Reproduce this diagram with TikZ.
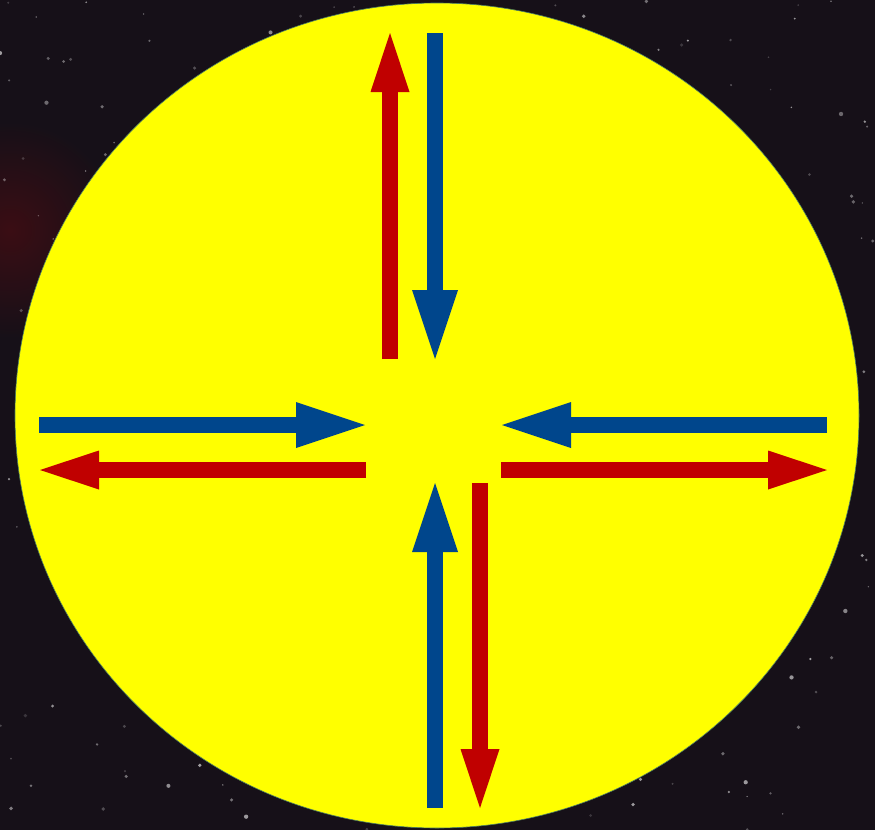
\documentclass[tikz,border=0pt]{standalone}
\usetikzlibrary{arrows.meta}
\definecolor{spacebg}{RGB}{22,16,24}
\definecolor{sunyellow}{RGB}{255,255,0}
\definecolor{arrred}{RGB}{192,0,0}
\definecolor{arrblue}{RGB}{0,70,140}
\tikzset{
  redarrow/.style={draw=arrred, line width=16pt,
    -{Triangle[length=59pt,width=39pt,line width=0pt]}},
  bluearrow/.style={draw=arrblue, line width=16pt,
    -{Triangle[length=69pt,width=46pt,line width=0pt]}},
}
\begin{document}
\begin{tikzpicture}[x=1pt,y=-1pt]
\useasboundingbox (0,0) rectangle (875,830);
% background
\fill[spacebg] (0,0) rectangle (875,830);
\shade[inner color=red!35!spacebg, outer color=spacebg, opacity=0.45] (10,230) circle (110);
\pgfmathsetseed{11}
\foreach \i in {1,...,320}{
  \pgfmathsetmacro{\sx}{rnd*875}
  \pgfmathsetmacro{\sy}{rnd*830}
  \pgfmathsetmacro{\sr}{0.7+rnd*1.5}
  \pgfmathsetmacro{\so}{0.15+rnd*0.45}
  \fill[white,opacity=\so] (\sx,\sy) circle (\sr);
}
% sun
\filldraw[fill=sunyellow, draw=arrblue!70!sunyellow, line width=0.6pt] (437,415.5) ellipse (422 and 412.5);
% coordinates
\coordinate (ru1) at (390,359); \coordinate (ru2) at (390,33);
\coordinate (bd1) at (435,33);  \coordinate (bd2) at (435,359);
\coordinate (br1) at (39,425);  \coordinate (br2) at (365,425);
\coordinate (rl1) at (366,470); \coordinate (rl2) at (40,470);
\coordinate (bl1) at (827,425); \coordinate (bl2) at (502,425);
\coordinate (rr1) at (501,470); \coordinate (rr2) at (827,470);
\coordinate (bu1) at (435,808); \coordinate (bu2) at (435,483);
\coordinate (rd1) at (480,483); \coordinate (rd2) at (480,808);
% arrows
\draw[redarrow]  (ru1) -- (ru2);
\draw[bluearrow] (bd1) -- (bd2);
\draw[bluearrow] (br1) -- (br2);
\draw[redarrow]  (rl1) -- (rl2);
\draw[bluearrow] (bl1) -- (bl2);
\draw[redarrow]  (rr1) -- (rr2);
\draw[bluearrow] (bu1) -- (bu2);
\draw[redarrow]  (rd1) -- (rd2);
\end{tikzpicture}
\end{document}
